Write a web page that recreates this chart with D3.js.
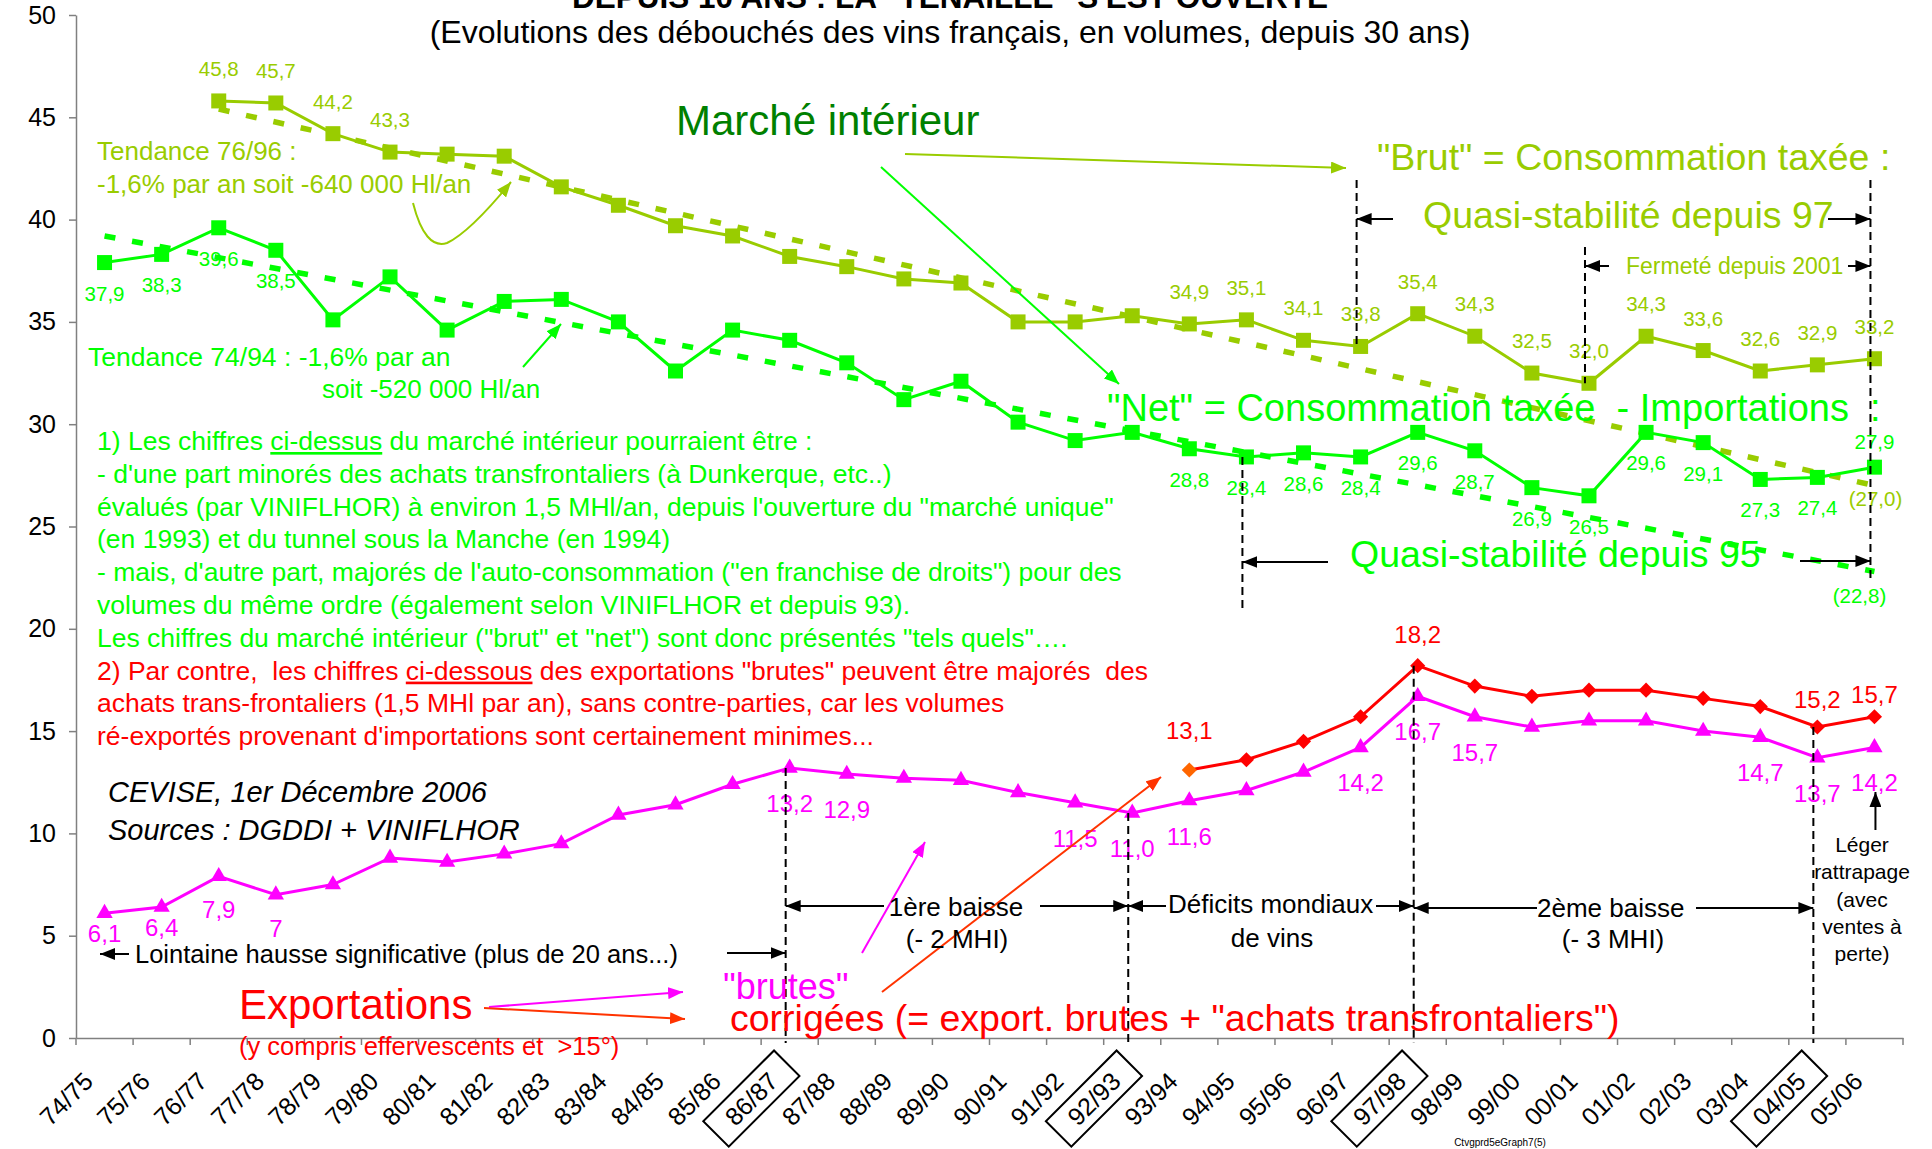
<!DOCTYPE html>
<html>
<head>
<meta charset="utf-8">
<title>Débouchés des vins français</title>
<script src="https://cdn.jsdelivr.net/npm/d3@7/dist/d3.min.js"></script>
<style>
  body { margin: 0; background: #fff; }
  svg { display: block; }
  text { font-family: "Liberation Sans", Arial, Helvetica, sans-serif; white-space: pre; }
</style>
</head>
<body>
<svg id="chart" width="1932" height="1149"></svg>
<script>
// campagnes (axe X)
const categories = ["74/75","75/76","76/77","77/78","78/79","79/80","80/81","81/82","82/83","83/84",
  "84/85","85/86","86/87","87/88","88/89","89/90","90/91","91/92","92/93","93/94","94/95","95/96",
  "96/97","97/98","98/99","99/00","00/01","01/02","02/03","03/04","04/05","05/06"];
const boxedCats = ["86/87", "92/93", "97/98", "04/05"];
const yTicks = [0, 5, 10, 15, 20, 25, 30, 35, 40, 45, 50];

// marché intérieur "brut" (consommation taxée), MHl
const brut = [null, null, 45.8, 45.7, 44.2, 43.3, 43.2, 43.1, 41.6, 40.7, 39.7, 39.2, 38.2, 37.7, 37.1, 36.9,
  35.0, 35.0, 35.3, 34.9, 35.1, 34.1, 33.8, 35.4, 34.3, 32.5, 32.0, 34.3, 33.6, 32.6, 32.9, 33.2];
// marché intérieur "net" (consommation taxée - importations)
const net = [37.9, 38.3, 39.6, 38.5, 35.1, 37.2, 34.6, 36.0, 36.1, 35.0, 32.6, 34.6, 34.1, 33.0, 31.2, 32.1,
  30.1, 29.2, 29.6, 28.8, 28.4, 28.6, 28.4, 29.6, 28.7, 26.9, 26.5, 29.6, 29.1, 27.3, 27.4, 27.9];
// exportations "brutes"
const exportBrutes = [6.1, 6.4, 7.9, 7.0, 7.5, 8.8, 8.6, 9.0, 9.5, 10.9, 11.4, 12.4, 13.2, 12.9, 12.7, 12.6,
  12.0, 11.5, 11.0, 11.6, 12.1, 13.0, 14.2, 16.7, 15.7, 15.2, 15.5, 15.5, 15.0, 14.7, 13.7, 14.2];
// exportations corrigées (+ achats transfrontaliers), depuis 93/94
const exportCorrigees = [null, null, null, null, null, null, null, null, null, null, null, null, null, null, null, null,
  null, null, null, 13.1, 13.6, 14.5, 15.7, 18.2, 17.2, 16.7, 17.0, 17.0, 16.6, 16.2, 15.2, 15.7];

// tendances (début / fin)
const brutTrendCats = ["76/77", "05/06"];
const brutTrendVals = [45.4, 27.0];
const netTrendCats = ["74/75", "05/06"];
const netTrendVals = [39.2, 22.8];

// points étiquetés
const brutLabelCats = ["76/77","77/78","78/79","79/80","93/94","94/95","95/96","96/97","97/98","98/99",
  "99/00","00/01","01/02","02/03","03/04","04/05","05/06"];
const netLabelCats = ["74/75","75/76","76/77","77/78","93/94","94/95","95/96","96/97","97/98","98/99",
  "99/00","00/01","01/02","02/03","03/04","04/05","05/06"];
const exportBrutesLabelCats = ["74/75","75/76","76/77","77/78","86/87","87/88","91/92","92/93","93/94",
  "96/97","97/98","98/99","03/04","04/05","05/06"];
const exportCorrigeesLabelCats = ["93/94", "97/98", "04/05", "05/06"];

const OLIVE = "#99cc00", GREEN = "#00ff00", DARKGREEN = "#008000", RED = "#ff0000",
  MAGENTA = "#ff00ff", ORANGE = "#ff6600", ARROWRED = "#ff3300";

const svg = d3.select("#chart");
const x = d3.scaleBand().domain(categories).range([76, 1903]);
const cx = c => x(c) + x.bandwidth() / 2;
const y = d3.scaleLinear().domain([0, 50]).range([1038, 15]);
const fr = v => d3.format(".1f")(v).replace(".", ",");

// pointes de flèches
const defs = svg.append("defs");
function arrowHead(id, color) {
  defs.append("marker").attr("id", id)
    .attr("viewBox", "0 0 10 10").attr("preserveAspectRatio", "none")
    .attr("refX", 10).attr("refY", 5)
    .attr("markerWidth", 15).attr("markerHeight", 12)
    .attr("markerUnits", "userSpaceOnUse").attr("orient", "auto")
    .append("path").attr("d", "M0,0L10,5L0,10Z").attr("fill", color);
}
arrowHead("ah-black", "#000");
arrowHead("ah-olive", OLIVE);
arrowHead("ah-green", GREEN);
arrowHead("ah-magenta", MAGENTA);
arrowHead("ah-red", ARROWRED);

function arrow(x1, y1, x2, y2, color, id, w) {
  svg.append("line").attr("x1", x1).attr("y1", y1).attr("x2", x2).attr("y2", y2)
    .attr("stroke", color).attr("stroke-width", w || 2)
    .attr("marker-end", "url(#" + id + ")");
}

function note(px, py, str, o) {
  o = o || {};
  return svg.append("text").attr("x", px).attr("y", py)
    .attr("font-size", o.size || 26)
    .attr("fill", o.color || "#000")
    .attr("text-anchor", o.anchor || "start")
    .attr("font-weight", o.weight || null)
    .attr("font-style", o.italic ? "italic" : null)
    .text(str);
}

// axes
const yAxis = svg.append("g").attr("transform", "translate(76,0)")
  .call(d3.axisLeft(y).tickValues(yTicks).tickSize(7).tickPadding(13).tickSizeOuter(0));
yAxis.select(".domain").attr("stroke", "#808080").attr("stroke-width", 1.5);
yAxis.selectAll(".tick line").attr("stroke", "#808080").attr("stroke-width", 1.5);
yAxis.selectAll(".tick text").attr("font-size", 25).attr("fill", "#000");

const xAxis = svg.append("g").attr("transform", "translate(0," + y(0) + ")")
  .call(d3.axisBottom(x).tickSize(0).tickFormat(""));
xAxis.select(".domain").attr("stroke", "#808080").attr("stroke-width", 1.5);
xAxis.selectAll(".xtick").data(categories.map(c => x(c)).concat([x.range()[1]]))
  .join("line").attr("class", "xtick")
  .attr("x1", d => d).attr("x2", d => d).attr("y1", 0).attr("y2", 7)
  .attr("stroke", "#808080").attr("stroke-width", 1.5);

const xLab = svg.append("g").selectAll("g").data(categories).join("g")
  .attr("transform", d => "translate(" + (cx(d) - 10) + ",1083) rotate(-45)");
xLab.append("text").attr("text-anchor", "end").attr("font-size", 25).text(d => d);
xLab.filter(d => boxedCats.includes(d)).append("rect")
  .attr("x", -81).attr("y", -27).attr("width", 100).attr("height", 36)
  .attr("fill", "none").attr("stroke", "#000").attr("stroke-width", 2);

// tendances en pointillés
function trend(cats, vals, color) {
  svg.append("path").datum(cats.map((c, i) => ({c: c, v: vals[i]})))
    .attr("fill", "none").attr("stroke", color).attr("stroke-width", 5.5)
    .attr("stroke-dasharray", "11,17")
    .attr("d", d3.line().x(d => cx(d.c)).y(d => y(d.v)));
}
trend(brutTrendCats, brutTrendVals, OLIVE);
trend(netTrendCats, netTrendVals, GREEN);

// séries
function series(values, color, symbol, size, rotate, firstColor) {
  const pts = categories.map((c, i) => ({c: c, v: values[i]})).filter(d => d.v != null);
  svg.append("path").datum(pts)
    .attr("fill", "none").attr("stroke", color).attr("stroke-width", 3)
    .attr("d", d3.line().x(d => cx(d.c)).y(d => y(d.v)));
  svg.append("g").selectAll("path").data(pts).join("path")
    .attr("transform", d => "translate(" + cx(d.c) + "," + y(d.v) + ")" + (rotate ? " rotate(45)" : ""))
    .attr("d", d3.symbol().type(symbol).size(size))
    .attr("fill", (d, i) => (i === 0 && firstColor) ? firstColor : color);
  return pts;
}
series(brut, OLIVE, d3.symbolSquare, 225);
series(net, GREEN, d3.symbolSquare, 225);
series(exportBrutes, MAGENTA, d3.symbolTriangle, 115);
series(exportCorrigees, RED, d3.symbolSquare, 115, true, ORANGE);

// étiquettes de valeurs
function labels(values, cats, color, size, dy, textOf) {
  svg.append("g").selectAll("text").data(cats).join("text")
    .attr("x", c => cx(c))
    .attr("y", c => y(values[categories.indexOf(c)]) + dy(c))
    .attr("text-anchor", "middle").attr("font-size", size).attr("fill", color)
    .text(c => textOf ? textOf(c) : fr(values[categories.indexOf(c)]));
}
labels(brut, brutLabelCats, OLIVE, 20.5, () => -25);
labels(net, netLabelCats, GREEN, 20.5, c => c === "05/06" ? -18 : 38);
labels(exportBrutes, exportBrutesLabelCats, MAGENTA, 24,
  c => (c === "74/75" || c === "75/76") ? 29 : (c === "76/77" || c === "77/78") ? 42 : 44,
  c => c === "77/78" ? "7" : fr(exportBrutes[categories.indexOf(c)]));
labels(exportCorrigees, exportCorrigeesLabelCats, RED, 24,
  c => ({"93/94": -31, "97/98": -23, "04/05": -19, "05/06": -14})[c]);

note(cx("05/06") + 1, 506, "(" + fr(brutTrendVals[1]) + ")", {size: 20.5, color: OLIVE, anchor: "middle"});
note(cx("05/06") - 15, 603, "(" + fr(netTrendVals[1]) + ")", {size: 20.5, color: GREEN, anchor: "middle"});

// lignes verticales pointillées noires
function vdash(c, y1, y2) {
  svg.append("line").attr("x1", cx(c) - 4).attr("x2", cx(c) - 4).attr("y1", y1).attr("y2", y2)
    .attr("stroke", "#000").attr("stroke-width", 2).attr("stroke-dasharray", "8,5");
}
vdash("96/97", 180, y(33.8));
vdash("05/06", 180, 578);
vdash("00/01", 247, y(32.0));
vdash("94/95", y(28.4), 613);
vdash("86/87", y(13.2), 1043);
vdash("92/93", y(11.0), 1043);
vdash("97/98", y(18.2), 1043);
vdash("04/05", y(15.2), 1043);

// titres
note(950, 8, "DEPUIS 10 ANS : LA \"TENAILLE\" S'EST OUVERTE", {size: 31.5, weight: "bold", anchor: "middle"});
note(950, 43, "(Evolutions des débouchés des vins français, en volumes, depuis 30 ans)", {size: 32, anchor: "middle"});

// marché intérieur
note(676, 135, "Marché intérieur", {size: 42, color: DARKGREEN});
arrow(905, 154, 1346, 168, OLIVE, "ah-olive");
arrow(881, 167, 1119, 384, GREEN, "ah-green");
note(1377, 170, "\"Brut\" = Consommation taxée :", {size: 37.5, color: OLIVE});
note(1423, 228, "Quasi-stabilité depuis 97", {size: 37.5, color: OLIVE});
arrow(1393, 219, cx("96/97") - 4, 219, "#000", "ah-black");
arrow(1828, 219, cx("05/06") - 4, 219, "#000", "ah-black");
note(1626, 274, "Fermeté depuis 2001", {size: 23, color: OLIVE});
arrow(1609, 266, cx("00/01") - 4, 266, "#000", "ah-black");
arrow(1848, 266, cx("05/06") - 4, 266, "#000", "ah-black");
note(1107, 421, "\"Net\" = Consommation taxée  - Importations  :", {size: 38, color: GREEN});
note(1350, 567, "Quasi-stabilité depuis 95", {size: 37.5, color: GREEN});
arrow(1328, 562, cx("94/95") - 4, 562, "#000", "ah-black");
arrow(1800, 561, cx("05/06") - 4, 561, "#000", "ah-black");

// tendances (textes)
note(97, 160, "Tendance 76/96 :", {size: 26, color: OLIVE});
note(97, 193, "-1,6% par an soit -640 000 Hl/an", {size: 26, color: OLIVE});
svg.append("path").attr("d", "M413,203 Q425,250 447,243 Q470,232 511,182")
  .attr("fill", "none").attr("stroke", OLIVE).attr("stroke-width", 2)
  .attr("marker-end", "url(#ah-olive)");
note(88, 366, "Tendance 74/94 : -1,6% par an", {size: 26.5, color: GREEN});
note(322, 398, "soit -520 000 Hl/an", {size: 26, color: GREEN});
arrow(523, 367, 561, 324, GREEN, "ah-green");

// commentaires
const commentLines = [
  ["1) Les chiffres ", "ci-dessus", " du marché intérieur pourraient être :"],
  ["- d'une part minorés des achats transfrontaliers (à Dunkerque, etc..)"],
  ["évalués (par VINIFLHOR) à environ 1,5 MHl/an, depuis l'ouverture du \"marché unique\""],
  ["(en 1993) et du tunnel sous la Manche (en 1994)"],
  ["- mais, d'autre part, majorés de l'auto-consommation (\"en franchise de droits\") pour des"],
  ["volumes du même ordre (également selon VINIFLHOR et depuis 93)."],
  ["Les chiffres du marché intérieur (\"brut\" et \"net\") sont donc présentés \"tels quels\"…."],
  ["2) Par contre,  les chiffres ", "ci-dessous", " des exportations \"brutes\" peuvent être majorés  des"],
  ["achats trans-frontaliers (1,5 MHl par an), sans contre-parties, car les volumes"],
  ["ré-exportés provenant d'importations sont certainement minimes..."]
];
commentLines.forEach((parts, i) => {
  const t = svg.append("text").attr("x", 97).attr("y", 450 + i * 32.8)
    .attr("font-size", 26.5).attr("fill", i < 7 ? GREEN : RED);
  parts.forEach((p, j) => {
    t.append("tspan").attr("text-decoration", j === 1 ? "underline" : null).text(p);
  });
});

note(108, 802, "CEVISE, 1er Décembre 2006", {size: 29, italic: true});
note(108, 840, "Sources : DGDDI + VINIFLHOR", {size: 29, italic: true});

// exportations
note(135, 963, "Lointaine hausse significative (plus de 20 ans...)", {size: 25.5});
arrow(129, 954, 100, 954, "#000", "ah-black");
arrow(727, 953, cx("86/87") - 4, 953, "#000", "ah-black");
note(239, 1019, "Exportations", {size: 42, color: RED});
note(239, 1055, "(y compris effervescents et  >15°)", {size: 25.5, color: RED});
arrow(489, 1007, 683, 992, MAGENTA, "ah-magenta");
arrow(484, 1008, 685, 1019, ARROWRED, "ah-red");
note(723, 999, "\"brutes\"", {size: 36, color: MAGENTA});
arrow(862, 953, 925, 842, MAGENTA, "ah-magenta");
note(730, 1031, "corrigées (= export. brutes + \"achats transfrontaliers\")", {size: 37.5, color: RED});
arrow(882, 992, 1161, 777, ARROWRED, "ah-red");

// périodes
note(956, 916, "1ère baisse", {anchor: "middle"});
note(957, 948, "(- 2 MHI)", {anchor: "middle"});
arrow(884, 906, cx("86/87") - 4, 906, "#000", "ah-black");
arrow(1040, 906, cx("92/93") - 4, 906, "#000", "ah-black");
note(1168, 913, "Déficits mondiaux");
note(1272, 947, "de vins", {anchor: "middle"});
arrow(1166, 906, cx("92/93") - 4, 906, "#000", "ah-black");
arrow(1376, 906, cx("97/98") - 4, 906, "#000", "ah-black");
note(1537, 917, "2ème baisse");
note(1613, 948, "(- 3 MHI)", {anchor: "middle"});
arrow(1537, 908, cx("97/98") - 4, 908, "#000", "ah-black");
arrow(1696, 908, cx("04/05") - 4, 908, "#000", "ah-black");

["Léger", "rattrapage", "(avec", "ventes à", "perte)"].forEach((s, i) => {
  note(1862, 852 + i * 27.3, s, {size: 21, anchor: "middle"});
});
arrow(cx("05/06") + 1, 830, cx("05/06") + 1, 792, "#000", "ah-black");

note(1500, 1146, "Ctvgprd5eGraph7(5)", {size: 10, anchor: "middle"});
</script>
</body>
</html>
